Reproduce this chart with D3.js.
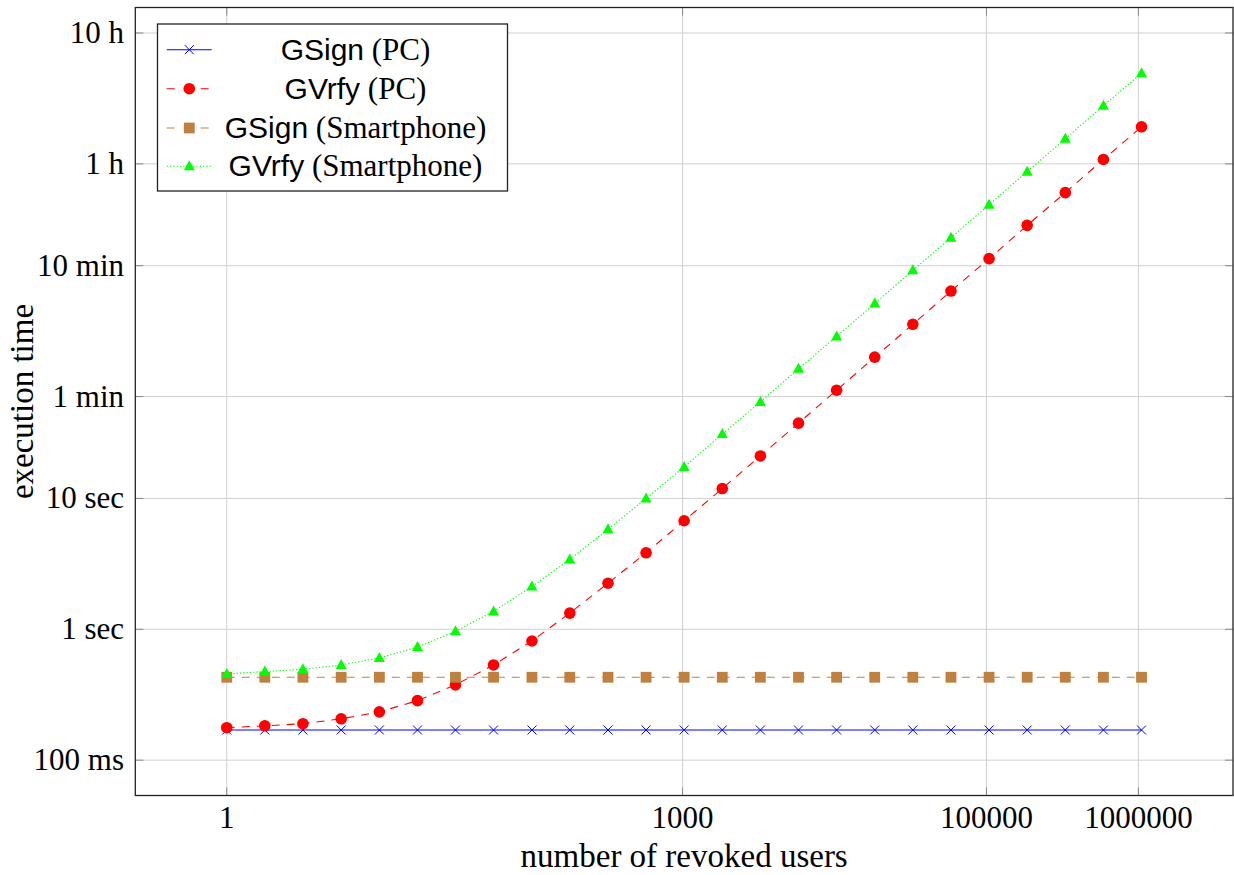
<!DOCTYPE html>
<meta charset="utf-8">
<style>
body { margin: 0; background: #fff; }
svg { font-family: "Liberation Serif", serif; }
.grid line { stroke: #d0d0d0; stroke-width: 1; }
.tick-mark { stroke: #888; stroke-width: 1; }
.sans { font-family: "Liberation Sans", sans-serif; }
</style>
<body>
<script src="https://d3js.org/d3.v7.min.js"></script>
<script>
// number of revoked users (x) and execution time in seconds (y)
const users = [1, 1.78, 3.17, 5.66, 10.1, 18.0, 32, 57.0, 102, 181, 323, 575, 1024,
  1825, 3251, 5793, 10321, 18390, 32768, 58386, 104032, 185364, 330281, 588496, 1048576];

const gsignPC = [0.170, 0.170, 0.170, 0.170, 0.170, 0.170, 0.170, 0.170, 0.170, 0.170, 0.170, 0.170, 0.170,
  0.170, 0.170, 0.170, 0.170, 0.170, 0.170, 0.170, 0.170, 0.170, 0.170, 0.170, 0.170];
const gvrfyPC = [0.177, 0.183, 0.190, 0.207, 0.234, 0.285, 0.376, 0.534, 0.814, 1.33, 2.25, 3.84, 6.75,
  11.9, 21.1, 37.6, 67.1, 120, 214, 384, 679, 1220, 2170, 3890, 6910];
const gsignPhone = [0.430, 0.430, 0.430, 0.430, 0.430, 0.430, 0.430, 0.430, 0.430, 0.430, 0.430, 0.430, 0.430,
  0.430, 0.430, 0.430, 0.430, 0.430, 0.430, 0.430, 0.430, 0.430, 0.430, 0.430, 0.430];
const gvrfyPhone = [0.456, 0.475, 0.495, 0.534, 0.604, 0.732, 0.965, 1.37, 2.12, 3.42, 5.80, 10.0, 17.4,
  31.0, 54.6, 97.9, 173, 308, 553, 983, 1755, 3135, 5600, 10000, 17740];

const xTicks = [1, 1000, 100000, 1000000];
const yTicks = [0.1, 1, 10, 60, 600, 3600, 36000];
const yTickLabels = ["100 ms", "1 sec", "10 sec", "1 min", "10 min", "1 h", "10 h"];

const seriesNames = ["GSign", "GVrfy", "GSign", "GVrfy"];
const seriesPlatforms = ["(PC)", "(PC)", "(Smartphone)", "(Smartphone)"];

const W = 1234, H = 875;
const pLeft = 135.3, pRight = 1233, pTop = 7.5, pBottom = 795.5;

const svg = d3.select("body").append("svg")
  .attr("width", W).attr("height", H);

const x = d3.scaleLog().domain([0.25, 4194304]).range([pLeft, pRight]);
const y = d3.scaleLog().domain([0.0537, 56364]).range([pBottom, pTop]);

// grid
const grid = svg.append("g").attr("class", "grid");
grid.selectAll(".gx").data(xTicks).enter().append("line")
  .attr("x1", d => x(d)).attr("x2", d => x(d))
  .attr("y1", pTop).attr("y2", pBottom);
grid.selectAll(".gy").data(yTicks).enter().append("line")
  .attr("x1", pLeft).attr("x2", pRight)
  .attr("y1", d => y(d)).attr("y2", d => y(d));

// inward tick marks on all four sides
const tl = 8;
const ticks = svg.append("g");
xTicks.forEach(d => {
  ticks.append("line").attr("class", "tick-mark")
    .attr("x1", x(d)).attr("x2", x(d)).attr("y1", pBottom).attr("y2", pBottom - tl);
  ticks.append("line").attr("class", "tick-mark")
    .attr("x1", x(d)).attr("x2", x(d)).attr("y1", pTop).attr("y2", pTop + tl);
});
yTicks.forEach(d => {
  ticks.append("line").attr("class", "tick-mark")
    .attr("x1", pLeft).attr("x2", pLeft + tl).attr("y1", y(d)).attr("y2", y(d));
  ticks.append("line").attr("class", "tick-mark")
    .attr("x1", pRight).attr("x2", pRight - tl).attr("y1", y(d)).attr("y2", y(d));
});

// tick labels
svg.selectAll(".xl").data(xTicks).enter().append("text")
  .attr("x", d => x(d)).attr("y", 828)
  .attr("text-anchor", "middle").attr("font-size", 31)
  .text(d => d);
svg.selectAll(".yl").data(yTicks).enter().append("text")
  .attr("x", 124).attr("y", d => y(d) + 10)
  .attr("text-anchor", "end").attr("font-size", 31)
  .text((d, i) => yTickLabels[i]);

// axis titles
svg.append("text").attr("x", (pLeft + pRight) / 2).attr("y", 867)
  .attr("text-anchor", "middle").attr("font-size", 33)
  .text("number of revoked users");
svg.append("text").attr("transform", `translate(33,${(pTop + pBottom) / 2}) rotate(-90)`)
  .attr("text-anchor", "middle").attr("font-size", 33)
  .text("execution time");

// marker drawers
function cross(g, cx, cy) {
  g.append("path").attr("d", `M${cx-4.5},${cy-4.5}L${cx+4.5},${cy+4.5}M${cx-4.5},${cy+4.5}L${cx+4.5},${cy-4.5}`)
    .attr("stroke", "#0000ff").attr("stroke-width", 1).attr("fill", "none");
}
function dot(g, cx, cy) {
  g.append("circle").attr("cx", cx).attr("cy", cy).attr("r", 5.8).attr("fill", "#ff0000");
}
function square(g, cx, cy) {
  g.append("rect").attr("x", cx - 5.4).attr("y", cy - 5.4).attr("width", 10.8).attr("height", 10.8)
    .attr("fill", "#bf8040");
}
function tri(g, cx, cy) {
  g.append("path").attr("d", `M${cx},${cy-6}L${cx+5.5},${cy+4}L${cx-5.5},${cy+4}Z`).attr("fill", "#00ff00");
}

const series = [
  { vals: gsignPC, color: "#0000ff", dash: null, mark: cross },
  { vals: gvrfyPC, color: "#ff0000", dash: "8 7", mark: dot },
  { vals: gsignPhone, color: "#bf8040", dash: "8 7", mark: square },
  { vals: gvrfyPhone, color: "#00ff00", dash: "1.3 2", mark: tri }
];

const line = d3.line().x(d => x(d[0])).y(d => y(d[1]));

series.forEach(s => {
  const g = svg.append("g");
  const pts = users.map((u, i) => [u, s.vals[i]]);
  g.append("path").attr("d", line(pts))
    .attr("fill", "none").attr("stroke", s.color).attr("stroke-width", 1.1)
    .attr("stroke-dasharray", s.dash);
  pts.forEach(p => s.mark(g, x(p[0]), y(p[1])));
});

// frame
svg.append("rect").attr("x", pLeft).attr("y", pTop)
  .attr("width", pRight - pLeft).attr("height", pBottom - pTop)
  .attr("fill", "none").attr("stroke", "#222").attr("stroke-width", 1.3);

// legend
const lg = svg.append("g");
lg.append("rect").attr("x", 157.5).attr("y", 24).attr("width", 350).attr("height", 167)
  .attr("fill", "#fff").attr("stroke", "#222").attr("stroke-width", 1.3);
const rowY = [49.7, 88.7, 128, 166.3];
series.forEach((s, i) => {
  const cy = rowY[i];
  lg.append("line").attr("x1", 166.7).attr("x2", 211.7).attr("y1", cy).attr("y2", cy)
    .attr("stroke", s.color).attr("stroke-width", 1.1)
    .attr("stroke-dasharray", s.dash ? (s.dash === "8 7" ? "8 9" : s.dash) : null);
  s.mark(lg, 189.3, cy);
  const t = lg.append("text").attr("x", 355.5).attr("y", cy + 10)
    .attr("text-anchor", "middle").attr("font-size", 31);
  t.append("tspan").attr("class", "sans").attr("font-size", 30).text(seriesNames[i]);
  t.append("tspan").text(" " + seriesPlatforms[i]);
});
</script>
</body>
